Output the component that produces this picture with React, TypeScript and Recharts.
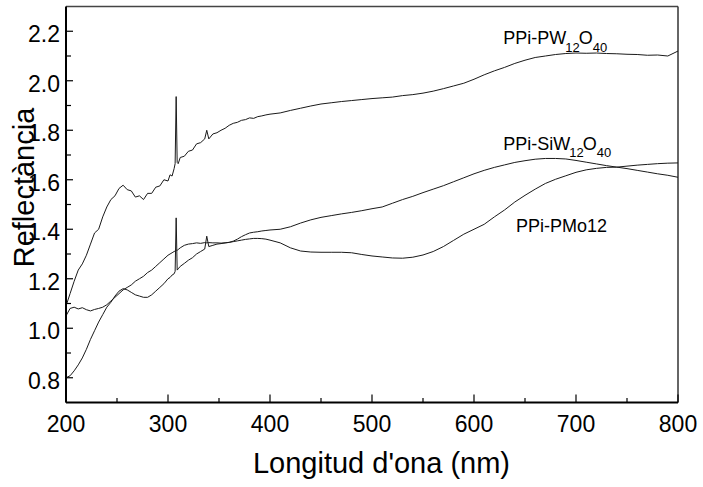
import React from 'react';
import { LineChart, Line, XAxis, YAxis, ReferenceLine, ReferenceDot } from 'recharts';

const wavelengths = [
  200, 204, 208, 212, 216, 220, 224, 228,
  232, 236, 240, 244, 248, 252, 256, 260,
  264, 268, 272, 276, 280, 284, 288, 292,
  296, 300, 302, 304, 306, 307, 308, 309,
  310, 312, 316, 320, 324, 328, 332, 336,
  338, 340, 344, 348, 352, 356, 360, 364,
  368, 372, 376, 380, 384, 388, 392, 396,
  400, 410, 420, 430, 440, 450, 460, 470,
  480, 490, 500, 510, 520, 530, 540, 550,
  560, 570, 580, 590, 600, 610, 620, 630,
  640, 650, 660, 670, 680, 690, 700, 710,
  720, 730, 740, 750, 760, 770, 780, 790,
  800,
];

const pwValues = [
  1.09, 1.14, 1.19, 1.235, 1.26, 1.295, 1.34, 1.385,
  1.40, 1.45, 1.49, 1.52, 1.535, 1.565, 1.578, 1.56,
  1.555, 1.53, 1.535, 1.52, 1.545, 1.545, 1.57, 1.575,
  1.60, 1.595, 1.62, 1.615, 1.645, 1.665, 1.936, 1.67,
  1.665, 1.69, 1.695, 1.715, 1.72, 1.745, 1.75, 1.765,
  1.80, 1.765, 1.785, 1.79, 1.80, 1.808, 1.82, 1.828,
  1.832, 1.84, 1.843, 1.85, 1.848, 1.855, 1.858, 1.862,
  1.865, 1.87, 1.88, 1.889, 1.898, 1.906, 1.911, 1.916,
  1.92, 1.924, 1.928, 1.931, 1.934, 1.94, 1.944, 1.95,
  1.958, 1.968, 1.979, 1.99, 2.006, 2.024, 2.04, 2.054,
  2.07, 2.083, 2.094, 2.10, 2.106, 2.11, 2.112, 2.111,
  2.112, 2.11, 2.109, 2.107, 2.106, 2.103, 2.104, 2.10,
  2.12,
];

const siwValues = [
  1.05, 1.08, 1.085, 1.078, 1.083, 1.075, 1.07, 1.076,
  1.08, 1.085, 1.095, 1.11, 1.125, 1.14, 1.155, 1.165,
  1.175, 1.19, 1.20, 1.21, 1.225, 1.235, 1.25, 1.265,
  1.28, 1.295, 1.30, 1.305, 1.31, 1.312, 1.315, 1.315,
  1.318, 1.325, 1.335, 1.34, 1.342, 1.345, 1.343, 1.346,
  1.345, 1.346, 1.345, 1.345, 1.344, 1.345, 1.347, 1.352,
  1.36, 1.37, 1.378, 1.385, 1.388, 1.39, 1.393, 1.395,
  1.397, 1.40, 1.41, 1.425, 1.438, 1.448, 1.455, 1.462,
  1.468, 1.475, 1.483, 1.49, 1.505, 1.52, 1.533, 1.548,
  1.562, 1.576, 1.592, 1.608, 1.624, 1.638, 1.65, 1.66,
  1.67, 1.677, 1.683, 1.686, 1.686, 1.684, 1.678, 1.671,
  1.664, 1.657, 1.651, 1.645, 1.638, 1.631, 1.624, 1.618,
  1.61,
];

const pmoValues = [
  0.80, 0.808, 0.828, 0.852, 0.88, 0.915, 0.955, 0.99,
  1.025, 1.055, 1.085, 1.105, 1.13, 1.15, 1.16, 1.155,
  1.145, 1.135, 1.13, 1.125, 1.125, 1.135, 1.15, 1.165,
  1.18, 1.20, 1.205, 1.215, 1.22, 1.23, 1.446, 1.235,
  1.24, 1.25, 1.262, 1.275, 1.285, 1.30, 1.31, 1.32,
  1.372, 1.33, 1.335, 1.34, 1.342, 1.345, 1.347, 1.35,
  1.353, 1.356, 1.359, 1.361, 1.363, 1.363, 1.362, 1.36,
  1.356, 1.345, 1.325, 1.312, 1.308, 1.307, 1.307, 1.307,
  1.305, 1.298, 1.292, 1.288, 1.284, 1.283, 1.287, 1.296,
  1.31, 1.33, 1.355, 1.38, 1.40, 1.42, 1.45, 1.478,
  1.51, 1.537, 1.562, 1.585, 1.602, 1.616, 1.63, 1.64,
  1.646, 1.65, 1.651, 1.655, 1.659, 1.662, 1.665, 1.667,
  1.668,
];

const xMajorTicks = [200, 300, 400, 500, 600, 700, 800];
const xMinorTicks = [250, 350, 450, 550, 650, 750];
const yMajorTicks = [0.8, 1.0, 1.2, 1.4, 1.6, 1.8, 2.0, 2.2];
const yMinorTicks = [0.9, 1.1, 1.3, 1.5, 1.7, 1.9, 2.1];

const xTitle = "Longitud d'ona (nm)";
const yTitle = 'Reflectància';

// Series annotations: text parts (main, subscript, main, subscript)
const pwLabelParts = ['PPi-PW', '12', 'O', '40'];
const siwLabelParts = ['PPi-SiW', '12', 'O', '40'];
const pmoLabelParts = ['PPi-PMo12'];
// anchor of each annotation, in data units (nm, reflectance)
const pwLabelAnchor = [628.7, 2.148];
const siwLabelAnchor = [628.7, 1.721];
const pmoLabelAnchor = [641.2, 1.388];

const FONT = '"Liberation Sans", Arial, sans-serif';

const data = wavelengths.map((nm, i) => ({
  nm,
  pw: pwValues[i],
  siw: siwValues[i],
  pmo: pmoValues[i],
}));

const isIn = (arr: number[], v: number) => arr.some((t) => Math.abs(t - v) < 1e-6);

const YTick = (props: any) => {
  const { x, y, payload } = props;
  const major = isIn(yMajorTicks, payload.value);
  return (
    <g>
      <line x1={x} y1={y} x2={x + (major ? 7 : 5)} y2={y} stroke="#000" strokeWidth={1.2} />
      {major && (
        <text x={x - 6} y={y + 11} textAnchor="end" fontSize={23} fill="#000" fontFamily={FONT}>
          {payload.value.toFixed(1)}
        </text>
      )}
    </g>
  );
};

const XTick = (props: any) => {
  const { x, y, payload } = props;
  const major = isIn(xMajorTicks, payload.value);
  return (
    <g>
      <line x1={x} y1={y} x2={x} y2={y - (major ? 8 : 4.5)} stroke="#000" strokeWidth={1.2} />
      {major && (
        <text x={x} y={y + 29.5} textAnchor="middle" fontSize={23} fill="#000" fontFamily={FONT}>
          {String(payload.value)}
        </text>
      )}
    </g>
  );
};

const YTitle = (props: any) => {
  const vb = props.viewBox || { x: 0, y: 6.5, width: 66, height: 396 };
  const cx = vb.x + 34;
  const cy = vb.y + vb.height / 2 - 17;
  return (
    <g>
      <rect x={vb.x + 12} y={cy - 83} width={28} height={166} fill="#fff" />
      <text
        x={cx}
        y={cy}
        transform={`rotate(-90, ${cx}, ${cy})`}
        textAnchor="middle"
        fontSize={29}
        fill="#000"
        fontFamily={FONT}
      >
        {yTitle}
      </text>
    </g>
  );
};

const XTitle = (props: any) => {
  const vb = props.viewBox || { x: 66, y: 402.5, width: 612, height: 30 };
  return (
    <text
      x={vb.x + vb.width / 2 + 9.5}
      y={vb.y + 70.5}
      textAnchor="middle"
      fontSize={29}
      fill="#000"
      fontFamily={FONT}
    >
      {xTitle}
    </text>
  );
};

const makeFormulaShape = (parts: string[]) => (p: any) => {
  const { cx, cy } = p;
  if (cx == null || cy == null) return <g />;
  return (
    <text x={cx} y={cy} fontSize={18} fill="#000" fontFamily={FONT}>
      <tspan>{parts[0]}</tspan>
      {parts.length > 1 && (
        <>
          <tspan fontSize={13} dx={-1} dy={7.5}>{parts[1]}</tspan>
          <tspan fontSize={18} dx={-1} dy={-7.5}>{parts[2]}</tspan>
          <tspan fontSize={13} dy={7.5}>{parts[3]}</tspan>
        </>
      )}
    </text>
  );
};

export default function App() {
  return (
    <div style={{ position: 'absolute', left: 0, top: 0, width: 703, height: 487, background: '#fff' }}>
      <LineChart
        width={703}
        height={487}
        data={data}
        margin={{ top: 6.5, right: 25, bottom: 54.5, left: 0 }}
      >
        <XAxis
          dataKey="nm"
          type="number"
          domain={[200, 800]}
          ticks={[...xMajorTicks, ...xMinorTicks]}
          interval={0}
          height={30}
          tickSize={0}
          tickMargin={0}
          tickLine={false}
          tick={XTick}
          axisLine={{ stroke: '#000', strokeWidth: 2 }}
          label={XTitle}
        />
        <YAxis
          type="number"
          domain={[0.7, 2.3]}
          ticks={[...yMajorTicks, ...yMinorTicks]}
          interval={0}
          width={66}
          tickSize={0}
          tickMargin={0}
          tickLine={false}
          tick={YTick}
          axisLine={{ stroke: '#000', strokeWidth: 2 }}
          label={YTitle}
        />
        <ReferenceLine y={2.3} stroke="#444" strokeWidth={1.5} />
        <ReferenceLine x={800} stroke="#333" strokeWidth={1.5} />
        <Line type="linear" dataKey="pw" stroke="#1a1a1a" strokeWidth={1} dot={false} isAnimationActive={false} />
        <Line type="linear" dataKey="siw" stroke="#1a1a1a" strokeWidth={1} dot={false} isAnimationActive={false} />
        <Line type="linear" dataKey="pmo" stroke="#1a1a1a" strokeWidth={1} dot={false} isAnimationActive={false} />
        <ReferenceDot x={pwLabelAnchor[0]} y={pwLabelAnchor[1]} r={0} shape={makeFormulaShape(pwLabelParts)} />
        <ReferenceDot x={siwLabelAnchor[0]} y={siwLabelAnchor[1]} r={0} shape={makeFormulaShape(siwLabelParts)} />
        <ReferenceDot x={pmoLabelAnchor[0]} y={pmoLabelAnchor[1]} r={0} shape={makeFormulaShape(pmoLabelParts)} />
      </LineChart>
    </div>
  );
}
